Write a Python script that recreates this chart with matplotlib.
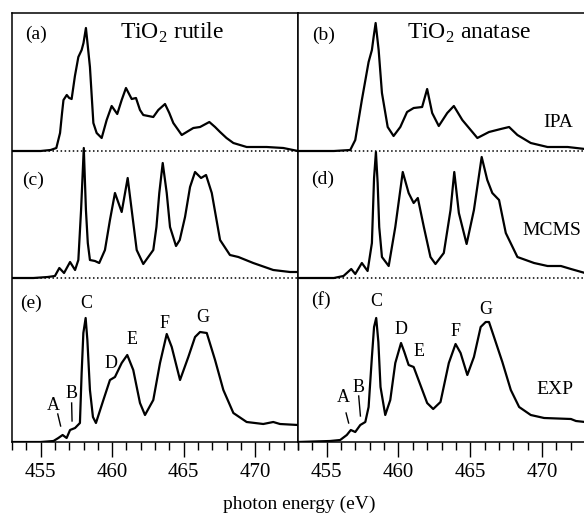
import numpy as np
import matplotlib
matplotlib.use("Agg")
import matplotlib.pyplot as plt
from matplotlib.ticker import MultipleLocator

plt.rcParams['font.family'] = ['Liberation Serif', 'DejaVu Serif']
plt.rcParams['mathtext.fontset'] = 'custom'
plt.rcParams['mathtext.rm'] = 'Liberation Serif'

# photon energy (eV) and intensity (arb. units)
rutile_ipa_e = [453.0, 455.0, 455.7, 456.1, 456.36, 456.5, 456.6, 456.83, 457.0, 457.17, 457.4, 457.64, 457.87,
                458.0, 458.17, 458.3, 458.45, 458.69, 458.92, 459.27, 459.62, 459.97, 460.36, 460.67,
                460.97, 461.37, 461.67, 461.95, 462.18, 462.88, 463.23, 463.7, 464.0, 464.28, 464.87,
                465.33, 465.68, 466.15, 466.8, 467.2, 467.55, 468.0, 468.48, 469.41, 470.81, 471.97, 473.0]
rutile_ipa = [0, 0, 1, 3, 18, 38, 51, 56, 53, 52, 75, 94, 101,
              108, 123, 105, 84, 28, 18, 13, 31, 45, 37, 51,
              63, 52, 53, 41, 36, 34, 41, 47, 38, 28, 16,
              20, 23, 24, 29, 24, 19, 13, 8, 4, 4, 3, 0]

rutile_mcms_e = [453.0, 454.5, 455.5, 456.0, 456.31, 456.64, 457.06, 457.41, 457.64, 457.83, 458.02,
                 458.17, 458.3, 458.45, 458.8, 459.1, 459.5, 459.85, 460.2, 460.67, 461.09, 461.37,
                 461.72, 462.18, 462.88, 463.1, 463.3, 463.54, 463.82, 464.05, 464.47, 464.73, 465.1,
                 465.45, 465.8, 466.22, 466.57, 466.97, 467.55, 468.24, 468.83, 469.87, 471.27, 472.44, 473.0]
rutile_mcms = [0, 0, 1, 2, 10, 5, 16, 8, 18, 68, 130,
               68, 35, 18, 17, 15, 28, 58, 85, 66, 100, 68,
               28, 14, 28, 51, 85, 115, 85, 51, 32, 38, 61,
               91, 106, 100, 103, 85, 38, 23, 21, 15, 8, 6, 6]

rutile_exp_e = [453.0, 455.0, 455.9, 456.24, 456.54, 456.82, 457.06, 457.41, 457.75, 457.87, 457.99,
                458.15, 458.27, 458.45, 458.66, 458.87, 459.39, 459.85, 460.2, 460.67, 461.06, 461.48,
                461.95, 462.3, 462.88, 463.35, 463.82, 464.17, 464.75, 465.33, 465.8, 466.15, 466.62,
                467.2, 467.78, 468.48, 469.41, 470.57, 471.27, 471.74, 473.0]
rutile_exp = [0, 0, 1, 4, 7, 4, 12, 14, 19, 69, 109,
              124, 102, 52, 25, 19, 42, 62, 65, 79, 87, 72,
              39, 27, 42, 79, 108, 95, 62, 85, 105, 110, 109,
              82, 52, 29, 20, 18, 20, 18, 17]

anatase_ipa_e = [453.0, 455.5, 456.64, 456.99, 457.22, 457.45, 457.92, 458.15, 458.27, 458.41, 458.62,
                 458.85, 459.25, 459.66, 460.13, 460.6, 461.06, 461.65, 462.0, 462.35, 462.81, 463.4,
                 463.86, 464.45, 465.5, 466.31, 467.13, 467.71, 468.29, 469.22, 470.39, 471.79, 473.0]
anatase_ipa = [0, 0, 1, 11, 31, 51, 89, 101, 114, 128, 101,
               58, 24, 15, 24, 39, 43, 44, 62, 38, 25, 38,
               45, 31, 13, 19, 22, 24, 16, 8, 4, 4, 2]

anatase_mcms_e = [453.0, 455.5, 456.17, 456.71, 456.99, 457.45, 457.85, 458.15, 458.3, 458.43, 458.55,
                  458.66, 458.85, 459.32, 459.78, 460.3, 460.71, 461.06, 461.35, 461.77, 462.23, 462.58,
                  463.16, 463.63, 463.89, 464.21, 464.75, 465.26, 465.8, 466.19, 466.54, 467.01, 467.48,
                  468.29, 469.45, 470.39, 471.32, 472.02, 473.0]
anatase_mcms = [0, 0, 2, 9, 4, 15, 7, 35, 100, 126, 95,
                51, 21, 12, 51, 106, 85, 75, 80, 51, 21, 14,
                25, 68, 106, 65, 34, 68, 121, 98, 85, 78, 45,
                21, 15, 12, 12, 9, 5]

anatase_exp_e = [453.0, 455.24, 455.94, 456.4, 456.68, 456.99, 457.34, 457.69, 457.92, 458.15, 458.3,
                 458.45, 458.6, 458.75, 459.08, 459.43, 459.78, 460.18, 460.41, 460.71, 461.06, 461.53,
                 462.0, 462.42, 462.93, 463.51, 463.98, 464.33, 464.8, 465.26, 465.73, 466.08, 466.31,
                 466.66, 467.24, 467.83, 468.41, 469.22, 470.15, 472.02, 472.37, 473.0]
anatase_exp = [0, 1, 2, 7, 12, 10, 17, 20, 35, 85, 115,
               124, 100, 55, 27, 42, 79, 99, 90, 77, 75, 57,
               39, 33, 40, 79, 98, 89, 67, 85, 115, 120, 120,
               105, 80, 52, 35, 27, 24, 23, 21, 20]

# vertical offsets of the three spectra (same units as intensity)
off_ipa, off_mcms, off_exp = 291, 164, 0

W, H = 584, 516
fig = plt.figure(figsize=(W / 100, H / 100), dpi=100)
ax1 = fig.add_axes([12 / W, (H - 442) / H, 286 / W, 429 / H])
ax2 = fig.add_axes([298 / W, (H - 442) / H, 287 / W, 429 / H])

curves = [
    (ax1, [(rutile_ipa_e, rutile_ipa, off_ipa), (rutile_mcms_e, rutile_mcms, off_mcms),
           (rutile_exp_e, rutile_exp, off_exp)]),
    (ax2, [(anatase_ipa_e, anatase_ipa, off_ipa), (anatase_mcms_e, anatase_mcms, off_mcms),
           (anatase_exp_e, anatase_exp, off_exp)]),
]

for ax, sets in curves:
    for e, y, off in sets:
        ax.plot(e, np.array(y) + off, color='black', lw=1.6, solid_joinstyle='round')
    for off in (off_ipa, off_mcms):
        ax.axhline(off, color='black', ls=':', lw=1.1)
    ax.set_xlim(453, 473)
    ax.set_ylim(0, 429)
    ax.set_yticks([])
    ax.xaxis.set_major_locator(MultipleLocator(5))
    ax.xaxis.set_minor_locator(MultipleLocator(1))
    ax.tick_params(axis='x', which='major', direction='out', length=11, width=1.0,
                   labelsize=15, pad=4)
    ax.tick_params(axis='x', which='minor', direction='out', length=6, width=1.0)
    for sp in ax.spines.values():
        sp.set_linewidth(1.1)

ax2.spines['right'].set_visible(False)

# y in axes data units = 442 - pixel row
def ypx(p):
    return 442 - p

lbl = dict(fontsize=14, ha='center', va='center')
ax1.text(454.7, ypx(34), '(a)', **lbl)
ax1.text(454.5, ypx(180), '(c)', **lbl)
ax1.text(454.35, ypx(303), '(e)', **lbl)
ax2.text(454.75, ypx(35), '(b)', **lbl)
ax2.text(454.75, ypx(179), '(d)', **lbl)
ax2.text(454.6, ypx(300), '(f)', **lbl)

ax1.text(464.2, ypx(33), r'TiO$_2$ rutile', fontsize=17, ha='center', va='center')
ax2.text(464.9, ypx(33), r'TiO$_2$ anatase', fontsize=17, ha='center', va='center')

ax2.text(471.1, ypx(123), 'IPA', **lbl)
ax2.text(470.7, ypx(231), 'MCMS', **lbl)
ax2.text(470.9, ypx(390), 'EXP', **lbl)

pk = dict(fontsize=13, ha='center', va='center')
# rutile EXP peak labels
ax1.text(455.87, ypx(405), 'A', **pk)
ax1.plot([456.2, 456.4], [ypx(414), ypx(426)], color='black', lw=1.0)
ax1.text(457.17, ypx(393), 'B', **pk)
ax1.plot([457.17, 457.2], [ypx(403), ypx(421)], color='black', lw=1.0)
ax1.text(458.17, ypx(303), 'C', **pk)
ax1.text(459.92, ypx(364), 'D', **pk)
ax1.text(461.4, ypx(340), 'E', **pk)
ax1.text(463.7, ypx(324), 'F', **pk)
ax1.text(466.35, ypx(317), 'G', **pk)
# anatase EXP peak labels
ax2.text(456.13, ypx(398), 'A', **pk)
ax2.plot([456.35, 456.53], [ypx(413), ypx(423)], color='black', lw=1.0)
ax2.text(457.2, ypx(388), 'B', **pk)
ax2.plot([457.23, 457.35], [ypx(396), ypx(416)], color='black', lw=1.0)
ax2.text(458.43, ypx(302), 'C', **pk)
ax2.text(460.2, ypx(330), 'D', **pk)
ax2.text(461.4, ypx(352), 'E', **pk)
ax2.text(463.98, ypx(331), 'F', **pk)
ax2.text(466.1, ypx(309), 'G', **pk)

fig.text(299 / W, 1 - 509 / H, 'photon energy (eV)', fontsize=14, ha='center', va='baseline')

fig.savefig('out.png', dpi=100)
